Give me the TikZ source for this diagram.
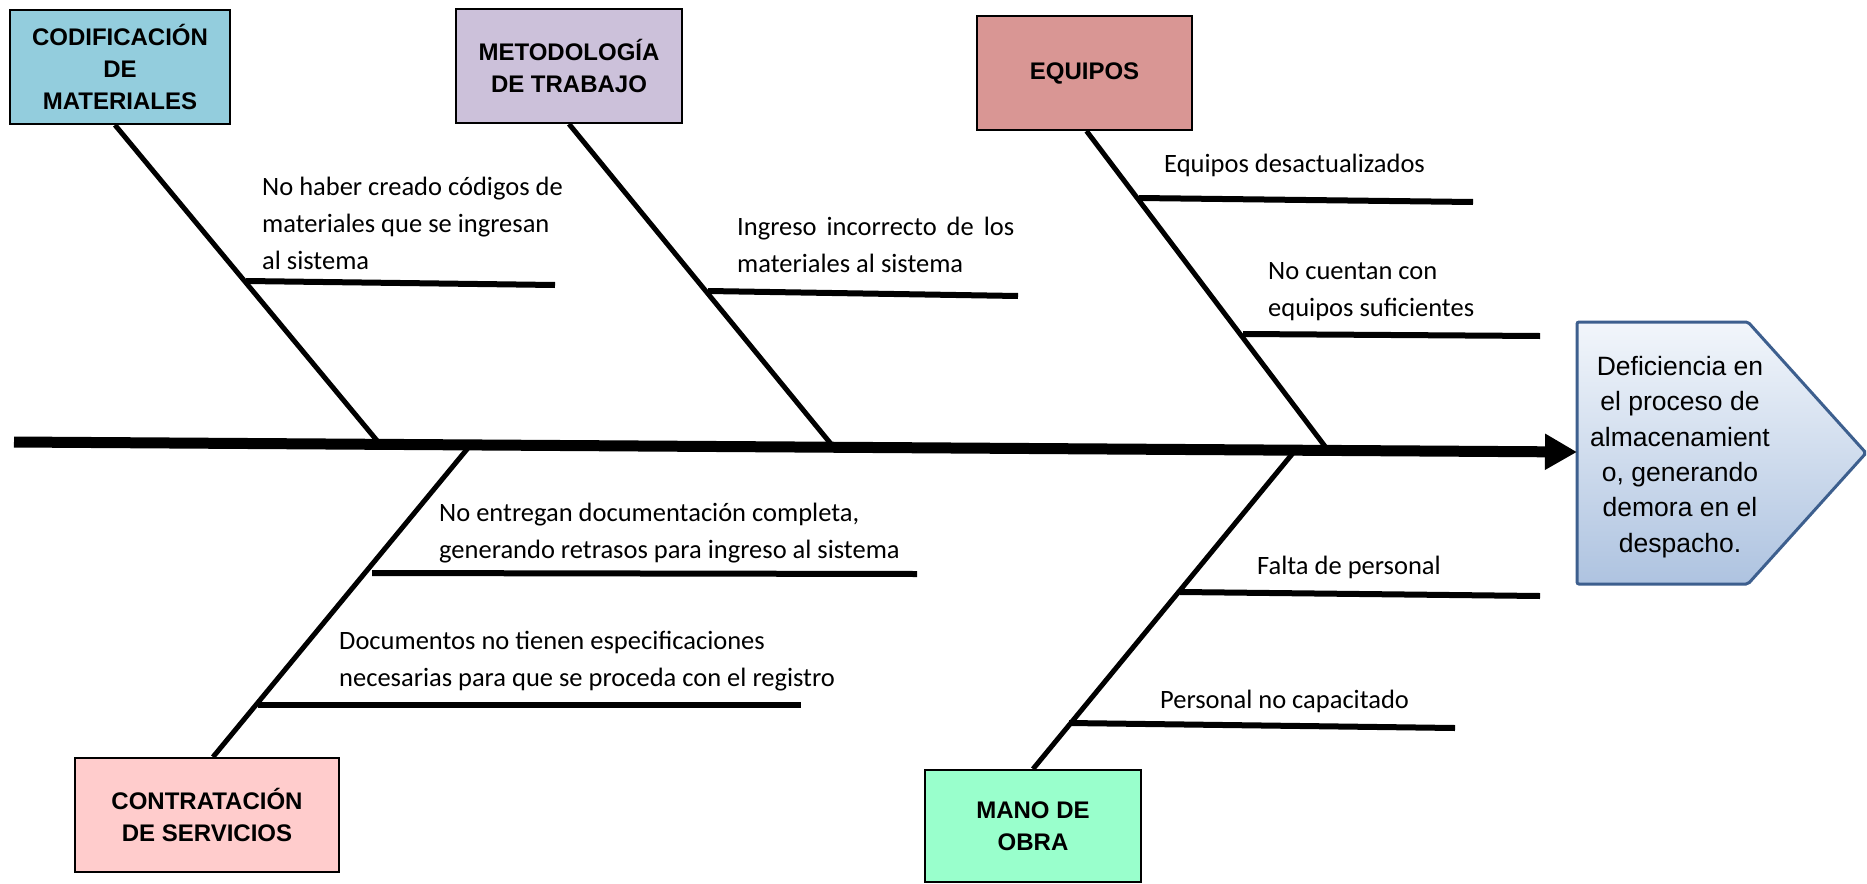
\documentclass[tikz,border=0pt]{standalone}
\usepackage{fontspec}
\setmainfont{Carlito}
\newfontfamily\arialf{Liberation Sans}
\usetikzlibrary{arrows.meta}
\definecolor{codc}{HTML}{93CDDD}
\definecolor{metc}{HTML}{CCC1DA}
\definecolor{eqc}{HTML}{D99694}
\definecolor{conc}{HTML}{FFCCCC}
\definecolor{manc}{HTML}{99FFCC}
\definecolor{resb}{HTML}{3D5F8E}
\definecolor{restop}{HTML}{F2F6FB}
\definecolor{resbot}{HTML}{AEC3E0}
\tikzset{
  catbox/.style={draw=black, line width=2pt, inner sep=0pt, align=center,
    font=\arialf\bfseries\fontsize{24}{32}\selectfont},
  bone/.style={line width=5pt},
  subbone/.style={line width=6pt},
  cause/.style={anchor=west, inner sep=0pt, align=left,
    font=\fontsize{26.5}{37}\selectfont},
  restext/.style={inner sep=0pt, align=center,
    font=\arialf\fontsize{26.5}{35.4}\selectfont},
}
\begin{document}
\begin{tikzpicture}[x=1pt,y=-1pt]
\useasboundingbox (0,0) rectangle (1867,883);
\fill[white] (0,0) rectangle (1867,883);

% category boxes
\node[catbox, fill=codc, minimum width=220pt, minimum height=114pt] (cod) at (120,67) {CODIFICACIÓN\\DE\\MATERIALES};
\node[catbox, fill=metc, minimum width=226pt, minimum height=114pt] (met) at (569,66) {METODOLOGÍA\\DE TRABAJO};
\node[catbox, fill=eqc, minimum width=215pt, minimum height=114pt] (eq) at (1084.5,73) {EQUIPOS};
\node[catbox, fill=conc, minimum width=264pt, minimum height=114pt] (con) at (207,815) {CONTRATACIÓN\\DE SERVICIOS};
\node[catbox, fill=manc, minimum width=216pt, minimum height=112pt] (man) at (1033,826) {MANO DE\\OBRA};

% spine points
\coordinate (s0) at (14,442);
\coordinate (tip) at (1577,452);
\coordinate (j1) at (379,443);
\coordinate (j2) at (831,444);
\coordinate (j3) at (1327,449);
\coordinate (j4) at (468,448);
\coordinate (j5) at (1293,453);

% main bones
\draw[bone] ([xshift=-5pt]cod.south) -- (j1);
\draw[bone] (met.south) -- (j2);
\draw[bone] ([xshift=2pt]eq.south) -- (j3);
\draw[bone] ([xshift=6pt]con.north) -- (j4);
\draw[bone] (man.north) -- (j5);

% sub-branches
\coordinate (a1) at (246,281); \coordinate (b1) at (555,285);
\coordinate (a2) at (708,291); \coordinate (b2) at (1018,296);
\coordinate (a3) at (1139,198); \coordinate (b3) at (1473,202);
\coordinate (a4) at (1243,334); \coordinate (b4) at (1540,336);
\coordinate (a5) at (372,573); \coordinate (b5) at (917,574);
\coordinate (a6) at (258,705); \coordinate (b6) at (801,705);
\coordinate (a7) at (1180,592); \coordinate (b7) at (1540,596);
\coordinate (a8) at (1069,723); \coordinate (b8) at (1455,728);
\draw[subbone] (a1) -- (b1);
\draw[subbone] (a2) -- (b2);
\draw[subbone] (a3) -- (b3);
\draw[subbone] (a4) -- (b4);
\draw[subbone] (a5) -- (b5);
\draw[subbone] (a6) -- (b6);
\draw[subbone] (a7) -- (b7);
\draw[subbone] (a8) -- (b8);

% cause texts
\node[cause] (t1) at (262,223) {No haber creado códigos de\\materiales que se ingresan\\al sistema};
\node[cause] (t2) at (737,245) {\makebox[277pt][s]{Ingreso incorrecto de los}\\materiales al sistema};
\node[cause] (t3) at (1164,165) {Equipos desactualizados};
\node[cause] (t4) at (1268,292) {No cuentan con\\equipos suficientes};
\node[cause] (t5) at (439,533) {No entregan documentación completa,\\generando retrasos para ingreso al sistema};
\node[cause] (t6) at (339,661) {Documentos no tienen especificaciones\\necesarias para que se proceda con el registro};
\node[cause] (t7) at (1257,567) {Falta de personal};
\node[cause] (t8) at (1160,701) {Personal no capacitado};

% result shape
\draw[resb, line width=3pt, rounded corners=2pt, top color=restop, bottom color=resbot]
  (1577,322) -- (1748,322) -- (1866,453) -- (1748,584) -- (1577,584) -- cycle;
\node[restext] (res) at (1680,457) {Deficiencia en\\el proceso de\\almacenamient\\o, generando\\demora en el\\despacho.};

% spine
\draw[line width=11pt, -{Triangle[length=32pt,width=34pt]}] (s0) -- (tip);
\end{tikzpicture}
\end{document}
